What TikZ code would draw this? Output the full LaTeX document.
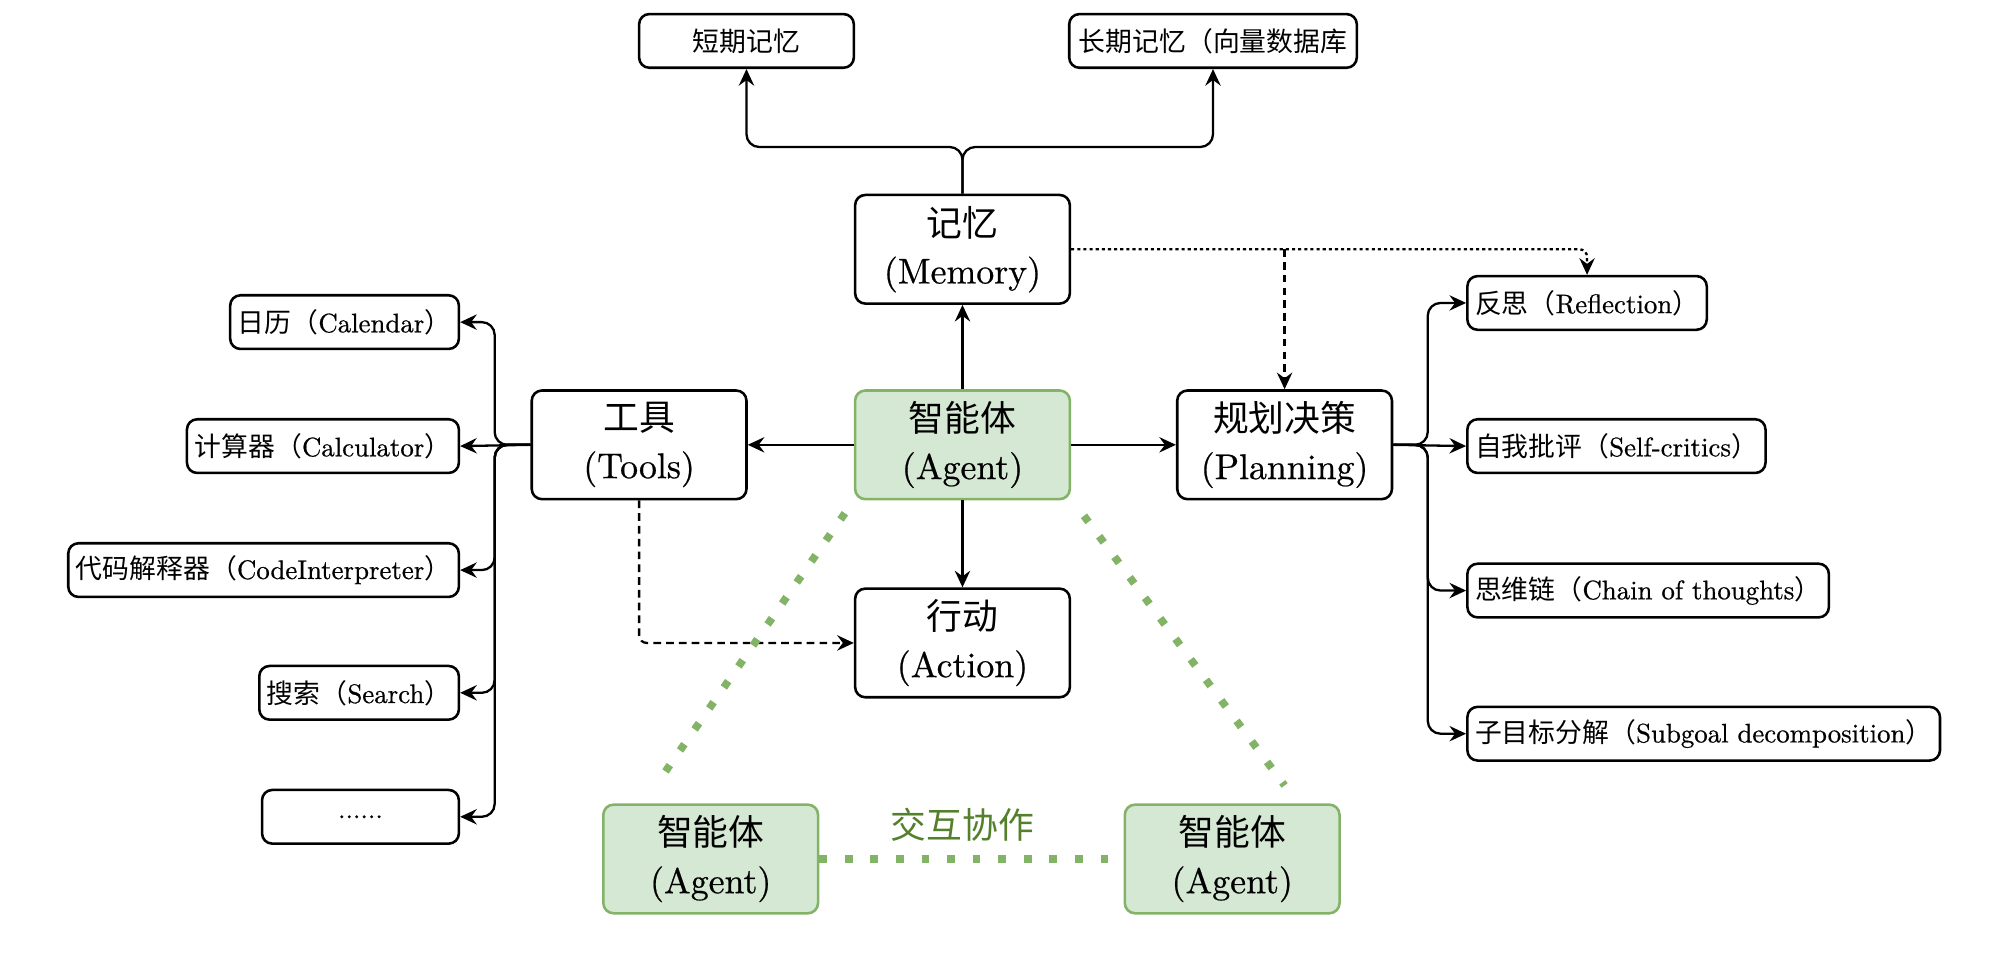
\documentclass[tikz,border=0pt]{standalone}
\usepackage{fontspec}
\usepackage{xcolor}
\usetikzlibrary{arrows.meta}
\setmainfont{lmroman10-regular.otf}[FakeBold=0.6]
\newfontfamily\cjk{Noto Sans CJK SC}
\newcommand{\zh}[1]{{\cjk #1}}
\definecolor{agentfill}{HTML}{D5E8D4}
\definecolor{agentline}{HTML}{82B366}
\definecolor{collabtext}{RGB}{84,128,44}

\begin{document}
\begin{tikzpicture}[x=0.5pt, y=-0.5pt, >={Stealth[length=6.5pt,width=6pt,inset=2.2pt]},
    box/.style={draw, rounded corners=4pt, line width=1pt, align=center, inner sep=0pt},
    bigbox/.style={box, minimum width=84pt, minimum height=42.5pt, font=\rmfamily\fontsize{14}{18.5}\selectfont},
    agentbox/.style={bigbox, fill=agentfill, draw=agentline},
    leaf/.style={box, minimum height=21pt, inner xsep=3pt, font=\rmfamily\fontsize{10.5}{12}\selectfont},
    link/.style={->, line width=0.9pt, rounded corners=5pt},
    hint/.style={->, line width=0.9pt, rounded corners=3pt},
    collab/.style={agentline, line width=3pt, dash pattern=on 3pt off 7pt}]

        \useasboundingbox (0, 0) rectangle (1560, 746.4);

        \node[agentbox] (agent) at (753, 348) {\zh{智能体}\\(Agent)};
        \node[bigbox] (memory) at (753, 195) {\zh{记忆}\\(Memory)};
        \node[bigbox] (tools) at (500, 348) {\zh{工具}\\(Tools)};
        \node[bigbox] (planning) at (1005, 348) {\zh{规划决策}\\(Planning)};
        \node[bigbox] (action) at (753, 503) {\zh{行动}\\(Action)};
        \node[agentbox] (agentl) at (556, 672) {\zh{智能体}\\(Agent)};
        \node[agentbox] (agentr) at (964, 672) {\zh{智能体}\\(Agent)};
        \node[text=collabtext, font=\fontsize{14}{16}\selectfont] (collablabel) at (753, 645) {\zh{交互协作}};

        \node[leaf, minimum width=84pt] (shortmem) at (584, 32) {\zh{短期记忆}};
        \node[leaf, minimum width=112.5pt] (longmem) at (949, 32) {\zh{长期记忆（向量数据库}};

        \node[leaf, anchor=east] (calendar) at (360, 252) {\zh{日历（}Calendar\zh{）}};
        \node[leaf, anchor=east] (calculator) at (360, 349) {\zh{计算器（}Calculator\zh{）}};
        \node[leaf, anchor=east] (code) at (360, 446) {\zh{代码解释器（}CodeInterpreter\zh{）}};
        \node[leaf, anchor=east] (search) at (360, 542) {\zh{搜索（}Search\zh{）}};
        \node[leaf, anchor=east, minimum width=77pt] (more) at (360, 639) {......};

        \node[leaf, anchor=west] (reflection) at (1147, 237) {\zh{反思（}Reflection\zh{）}};
        \node[leaf, anchor=west] (critics) at (1147, 349) {\zh{自我批评（}Self-critics\zh{）}};
        \node[leaf, anchor=west] (chain) at (1147, 462) {\zh{思维链（}Chain of thoughts\zh{）}};
        \node[leaf, anchor=west] (subgoal) at (1147, 574) {\zh{子目标分解（}Subgoal decomposition\zh{）}};

        \coordinate (memsplit) at (753, 115);
        \coordinate (toolsplit) at (387, 348);
        \coordinate (plansplit) at (1117, 348);

        \draw[link] (agent) -- (memory);
        \draw[link] (agent) -- (tools);
        \draw[link] (agent) -- (planning);
        \draw[link] (agent) -- (action);

        \draw[link] (memory.north) -- (memsplit) -| (shortmem.south);
        \draw[link] (memory.north) -- (memsplit) -| (longmem.south);

        \draw[link] (tools.west) -- (toolsplit) |- (calendar.east);
        \draw[link] (tools.west) -- (calculator.east);
        \draw[link] (tools.west) -- (toolsplit) |- (code.east);
        \draw[link] (tools.west) -- (toolsplit) |- (search.east);
        \draw[link] (tools.west) -- (toolsplit) |- (more.east);

        \draw[link] (planning.east) -- (plansplit) |- (reflection.west);
        \draw[link] (planning.east) -- (critics.west);
        \draw[link] (planning.east) -- (plansplit) |- (chain.west);
        \draw[link] (planning.east) -- (plansplit) |- (subgoal.west);

        \draw[hint, dash pattern=on 1.2pt off 1.2pt] (memory.east) -| (reflection.north);
        \draw[hint, dash pattern=on 3pt off 2pt] (memory.east -| planning.north) -- (planning.north);
        \draw[hint, dash pattern=on 3pt off 2pt] (tools.south) |- (action.west);

        \draw[collab] ([shift={(-7, 10)}]agent.south west) -- ([shift={(42, -14)}]agentl.north west);
        \draw[collab] ([shift={(10, 12)}]agent.south east) -- ([shift={(-44, -14)}]agentr.north east);
        \draw[collab] (agentl.east) -- (agentr.west);
    \end{tikzpicture}
\end{document}
